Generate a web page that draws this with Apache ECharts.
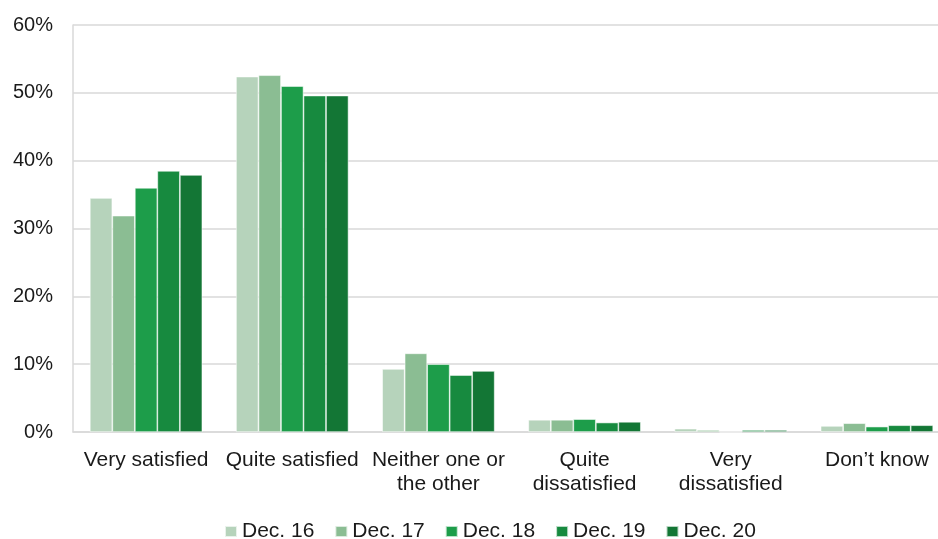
<!DOCTYPE html>
<html>
<head>
<meta charset="utf-8">
<script src="https://cdn.jsdelivr.net/npm/echarts@6/dist/echarts.min.js"></script>
<style>
  html, body { margin: 0; padding: 0; background: #fff; overflow: hidden; width: 938px; height: 539px; }
  #chart { width: 950px; height: 539px; }
</style>
</head>
<body>
<div id="chart"></div>
<script>
// Satisfaction survey responses, share of respondents (%)
const categories = ['Very satisfied', 'Quite satisfied', 'Neither one or\nthe other', 'Quite\ndissatisfied', 'Very\ndissatisfied', 'Don\u2019t know'];
const seriesNames = ['Dec. 16', 'Dec. 17', 'Dec. 18', 'Dec. 19', 'Dec. 20'];
const dec16 = [34.5, 52.4, 9.3, 1.8, 0.5, 0.9];
const dec17 = [31.9, 52.6, 11.6, 1.8, 0.3, 1.3];
const dec18 = [36.0, 51.0, 10.0, 1.9, 0.0, 0.8];
const dec19 = [38.5, 49.6, 8.4, 1.4, 0.3, 1.0];
const dec20 = [37.9, 49.6, 9.0, 1.5, 0.3, 1.0];
const yTicks = [0, 10, 20, 30, 40, 50, 60];

const palette = ['#b6d3bb', '#8bbd93', '#1d9d4a', '#178a3f', '#137635'];
const allValues = [dec16, dec17, dec18, dec19, dec20];

const chart = echarts.init(document.getElementById('chart'), null, { renderer: 'canvas' });
const font = 'Liberation Sans, Arial, sans-serif';

chart.setOption({
  animation: false,
  textStyle: { fontFamily: font },
  grid: { left: 73, top: 25, width: 877, height: 407, containLabel: false },
  legend: {
    data: seriesNames,
    left: 224,
    top: 521,
    padding: 0,
    itemWidth: 12,
    itemHeight: 11,
    itemGap: 20,
    icon: 'rect',
    textStyle: { fontSize: 21, color: '#1a1a1a', fontFamily: font }
  },
  xAxis: {
    type: 'category',
    data: categories,
    axisLine: { show: true, lineStyle: { color: '#d9d9d9', width: 1.5 } },
    axisTick: { show: false },
    axisLabel: {
      fontSize: 21,
      color: '#1a1a1a',
      fontFamily: font,
      margin: 16,
      lineHeight: 24,
      interval: 0
    }
  },
  yAxis: {
    type: 'value',
    min: yTicks[0],
    max: yTicks[yTicks.length - 1],
    interval: 10,
    axisLine: { show: true, lineStyle: { color: '#d9d9d9', width: 1.5 } },
    axisTick: { show: false },
    splitLine: { lineStyle: { color: '#d9d9d9', width: 1.5 } },
    axisLabel: {
      formatter: '{value}%',
      fontSize: 20,
      color: '#1a1a1a',
      fontFamily: font,
      margin: 20
    }
  },
  series: seriesNames.map((name, i) => ({
    name: name,
    type: 'bar',
    data: allValues[i],
    barGap: '0%',
    barCategoryGap: '23%',
    itemStyle: {
      color: palette[i],
      borderColor: 'rgba(255,255,255,0.7)',
      borderWidth: 0.75
    }
  }))
});
</script>
</body>
</html>
